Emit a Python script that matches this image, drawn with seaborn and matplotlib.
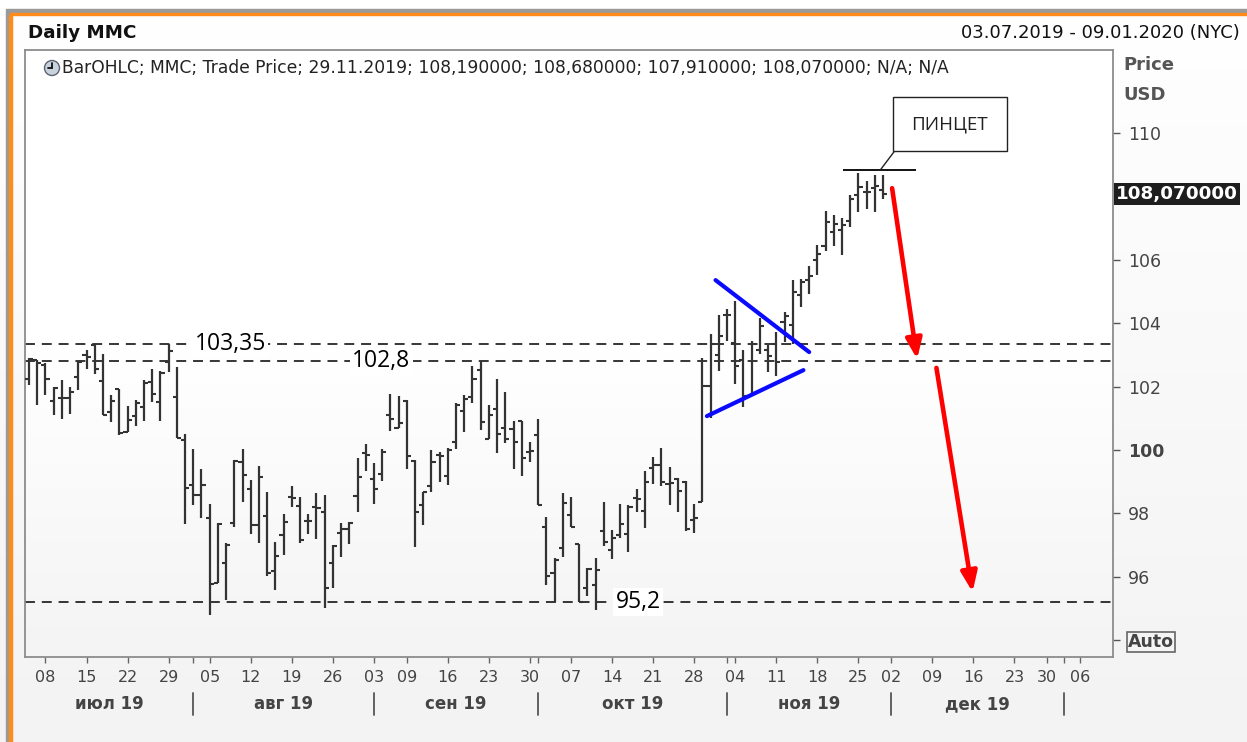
import matplotlib
matplotlib.use("Agg")
import matplotlib.pyplot as plt
import matplotlib.patches as mpatches
import matplotlib.transforms as mtransforms
from matplotlib.colors import LinearSegmentedColormap
import numpy as np
import pandas as pd
import seaborn as sns

W, H = 1247, 742

# daily bars MMC, 03.07.2019 - 29.11.2019
opens = [102.25, 102.83, 102.67, 101.54, 101.63, 101.63, 102.31, 102.99, 103.30, 102.17,
         101.21, 101.92, 100.58, 101.07, 101.36, 102.15, 101.50, 102.78, 101.68, 100.32,
         98.90, 98.59, 97.85, 95.79, 96.45, 97.70, 99.61, 98.78, 97.64, 97.93,
         96.18, 97.32, 98.53, 98.22, 97.77, 98.19, 98.05, 96.45, 97.39, 97.51,
         98.55, 99.91, 99.09, 99.23, 101.10, 100.69, 101.55, 99.66, 98.27, 98.88,
         99.84, 99.19, 100.24, 101.23, 101.68, 102.54, 100.36, 101.28, 100.71, 100.66,
         100.92, 99.95, 100.47, 97.57, 96.11, 96.91, 97.94, 97.02, 95.64, 95.74,
         97.43, 96.85, 97.32, 97.34, 98.48, 98.08, 99.44, 99.52, 98.92, 99.08,
         98.98, 97.79, 98.35, 102.01, 103.00, 104.26, 103.38, 102.85, 101.70, 103.17,
         103.14, 103.34, 104.03, 103.93, 104.88, 105.35, 105.98, 106.43, 106.87, 106.93,
         107.24, 108.03, 108.13, 108.26, 108.19]
highs = [102.90, 102.85, 102.73, 101.99, 102.20, 101.99, 102.80, 103.15, 103.35, 103.04,
         101.75, 101.92, 101.40, 101.57, 102.20, 102.55, 102.49, 103.36, 102.62, 100.49,
         100.03, 99.40, 98.29, 97.70, 97.07, 99.68, 100.03, 99.05, 99.49, 98.68,
         97.09, 97.98, 98.86, 98.53, 97.98, 98.64, 98.57, 96.99, 97.70, 97.74,
         99.75, 100.20, 99.59, 100.03, 101.76, 101.69, 101.57, 99.70, 98.69, 100.01,
         99.95, 100.05, 101.47, 101.72, 102.66, 102.77, 101.41, 102.25, 101.83, 100.92,
         100.92, 100.24, 100.99, 97.89, 96.58, 98.65, 98.51, 97.05, 96.27, 96.58,
         98.37, 97.48, 98.29, 98.25, 98.77, 99.33, 99.78, 100.07, 99.47, 99.12,
         99.02, 98.29, 102.89, 103.66, 104.26, 104.46, 104.71, 103.17, 103.45, 104.15,
         103.31, 103.71, 104.34, 105.35, 105.38, 105.82, 106.47, 107.55, 107.42, 107.31,
         108.03, 108.74, 108.50, 108.68, 108.68]
lows = [102.05, 101.42, 101.73, 101.10, 100.98, 101.15, 101.89, 102.57, 102.41, 101.12,
        100.87, 100.47, 100.56, 100.77, 100.91, 101.52, 100.91, 102.46, 100.37, 97.66,
        98.27, 97.87, 94.79, 95.79, 95.27, 97.56, 98.36, 97.35, 97.07, 96.03,
        95.58, 96.70, 98.19, 97.07, 97.35, 97.20, 95.01, 95.66, 96.63, 97.04,
        98.03, 99.33, 98.29, 99.02, 100.61, 100.69, 99.39, 96.95, 97.63, 98.67,
        98.98, 98.90, 100.03, 100.57, 101.49, 100.64, 100.34, 99.90, 100.22, 99.40,
        99.17, 99.61, 98.25, 95.74, 95.20, 96.63, 97.57, 95.20, 95.38, 94.96,
        96.96, 96.57, 97.24, 96.78, 98.04, 97.55, 98.92, 98.87, 98.25, 98.04,
        97.43, 97.38, 98.35, 101.01, 102.48, 103.45, 102.09, 101.35, 101.70, 103.03,
        102.45, 102.33, 103.40, 103.35, 104.51, 104.93, 105.51, 106.29, 106.43, 106.16,
        107.03, 107.52, 107.59, 107.52, 107.91]
closes = [102.88, 102.73, 102.25, 101.96, 101.63, 101.84, 102.78, 102.94, 102.55, 101.12,
          101.54, 100.53, 100.94, 101.47, 102.10, 101.78, 102.44, 103.11, 100.37, 98.80,
          98.59, 98.90, 95.76, 97.67, 97.01, 99.65, 99.20, 97.64, 99.16, 96.11,
          96.66, 97.74, 98.50, 97.15, 97.77, 98.16, 95.66, 96.97, 97.51, 97.70,
          99.16, 99.85, 98.76, 99.93, 100.99, 100.84, 99.82, 98.06, 98.67, 99.63,
          99.80, 100.01, 101.41, 101.60, 102.23, 100.87, 101.10, 100.50, 100.34, 100.24,
          99.74, 99.98, 98.25, 96.04, 96.53, 98.34, 97.57, 95.20, 96.25, 96.21,
          97.09, 97.22, 97.66, 98.21, 98.45, 99.00, 99.52, 98.98, 98.95, 98.71,
          97.51, 97.85, 102.01, 103.35, 103.61, 104.26, 102.64, 101.70, 103.35, 103.90,
          102.98, 102.79, 104.23, 104.98, 105.30, 105.49, 106.19, 107.18, 107.13, 107.10,
          107.92, 108.29, 108.15, 108.34, 108.07]

holidays = ["2019-07-04", "2019-09-02", "2019-11-28", "2019-12-25", "2020-01-01"]
week_ticks = ["2019-07-08", "2019-07-15", "2019-07-22", "2019-07-29", "2019-08-05",
              "2019-08-12", "2019-08-19", "2019-08-26", "2019-09-03", "2019-09-09",
              "2019-09-16", "2019-09-23", "2019-09-30", "2019-10-07", "2019-10-14",
              "2019-10-21", "2019-10-28", "2019-11-04", "2019-11-11", "2019-11-18",
              "2019-11-25", "2019-12-02", "2019-12-09", "2019-12-16", "2019-12-23",
              "2019-12-30", "2020-01-06"]
month_starts = ["2019-08-01", "2019-09-03", "2019-10-01", "2019-11-01", "2019-12-02", "2020-01-02"]
month_names = ["июл 19", "авг 19", "сен 19", "окт 19", "ноя 19", "дек 19"]

# horizontal levels and their labels
levels = [103.35, 102.8, 95.2]
level_texts = ["103,35", "102,8", "95,2"]

# hand-drawn lines, in (bar number, price)
tri_upper = ([83.6, 95.0], [105.36, 103.09])
tri_lower = ([82.55, 94.3], [101.07, 102.52])
arrow_1 = ((105.1, 108.26), (108.15, 102.87))
arrow_2 = ((110.5, 102.59), (114.9, 95.52))
pincet_level = 108.83

last_price = 108.07
y_ticks = [94, 96, 98, 100, 102, 104, 106, 110]


def px(x, y):
    return x / W, 1 - y / H


sns.set_theme(style="white")
plt.rcParams["font.family"] = ["DejaVu Sans"]

calendar = pd.bdate_range("2019-07-03", "2020-01-09")
calendar = calendar[~calendar.isin(pd.to_datetime(holidays))]
pos = {d: i for i, d in enumerate(calendar)}

df = pd.DataFrame({"date": calendar[:len(opens)], "open": opens, "high": highs,
                   "low": lows, "close": closes})
df["x"] = np.arange(len(df))

fig = plt.figure(figsize=(W / 100, H / 100), dpi=100)

# background of the whole window
bg = fig.add_axes([0, 0, 1, 1], zorder=-10)
bg_cmap = LinearSegmentedColormap.from_list("bg", ["#ffffff", "#f3f3f3"])
bg.imshow(np.linspace(0, 1, 100)[:, None], cmap=bg_cmap, aspect="auto", extent=[0, 1, 0, 1])
bg.set_axis_off()

# window frame
fig.add_artist(mpatches.Rectangle(px(6, 12), 1, 3 / H, color="#9a9a9a", transform=fig.transFigure))
fig.add_artist(mpatches.Rectangle(px(9, 15), 1, 2.5 / H, color="#ff8c1a", transform=fig.transFigure))
fig.add_artist(mpatches.Rectangle(px(6, H), 3 / W, 1 - 12 / H, color="#9a9a9a", transform=fig.transFigure))
fig.add_artist(mpatches.Rectangle(px(9, H), 2.5 / W, 1 - 15 / H, color="#ff8c1a", transform=fig.transFigure))

ax = fig.add_axes([25 / W, 1 - 657 / H, (1113 - 25) / W, (657 - 50) / H])
ax.set_facecolor("none")
plot_cmap = LinearSegmentedColormap.from_list("plot", ["#ffffff", "#ffffff", "#f4f4f4"])
ax.imshow(np.linspace(0, 1, 100)[:, None], cmap=plot_cmap, aspect="auto",
          extent=[0, 1, 0, 1], transform=ax.transAxes, zorder=0)

# OHLC bars
bar_col = "#333333"
ax.vlines(df["x"], df["low"], df["high"], color=bar_col, lw=1.6, zorder=3)
ax.hlines(df["open"], df["x"] - 0.5, df["x"], color=bar_col, lw=1.5, zorder=3)
ax.hlines(df["close"], df["x"], df["x"] + 0.5, color=bar_col, lw=1.5, zorder=3)

# levels
for lv in levels:
    ax.axhline(lv, color="black", lw=1.1, ls=(0, (6.5, 4.5)), zorder=2)
level_x = [24.5, 42.9, 74.2]
for lv, txt, lx in zip(levels, level_texts, level_x):
    ax.text(lx, lv, txt, ha="center", va="center", fontsize=16.5, family="Open Sans",
            color="black", zorder=4,
            bbox=dict(boxstyle="square,pad=0.1", fc="white", ec="none"))

# triangle
sns.lineplot(x=tri_upper[0], y=tri_upper[1], ax=ax, color="#0a0aff", lw=3.0, zorder=5)
sns.lineplot(x=tri_lower[0], y=tri_lower[1], ax=ax, color="#0a0aff", lw=3.0, zorder=5)

# arrows
for a0, a1 in [arrow_1, arrow_2]:
    ax.annotate("", xy=a1, xytext=a0, zorder=6,
                arrowprops=dict(arrowstyle="-|>,head_length=0.75,head_width=0.3",
                                color="#ff0000", lw=3.3, mutation_scale=16,
                                shrinkA=0, shrinkB=0))

# pincet mark
ax.hlines(pincet_level, 99.1, 108.0, color="black", lw=1.3, zorder=5)
ax.plot([103.65, 105.4], [pincet_level, 109.43], color="#222222", lw=1.0, zorder=5)
ax.add_patch(mpatches.Rectangle((105.25, 109.43), 13.8, 1.71, fc="white", ec="#222222",
                                lw=1.0, zorder=5))
ax.text(112.15, 110.285, "ПИНЦЕТ", ha="center", va="center", fontsize=13.5,
        family="Open Sans", color="#222222", zorder=6)

ax.set_xlim(-0.49, 132.0)
ax.set_ylim(93.47, 112.62)

# x axis
ax.set_xticks([pos[pd.Timestamp(d)] for d in week_ticks])
ax.set_xticklabels([pd.Timestamp(d).strftime("%d") for d in week_ticks])
ax.set_xticks([pos[pd.Timestamp(d)] for d in month_starts], minor=True)
ax.tick_params(axis="x", which="both", direction="out", length=4, width=1,
               color="#666666", pad=5, labelsize=11.5, labelcolor="#444444", bottom=True)

# y axis on the right
ax.yaxis.tick_right()
ax.set_yticks(y_ticks)
ax.set_yticklabels(["Auto" if t == 94 else str(t) for t in y_ticks])
ax.tick_params(axis="y", direction="out", length=5, width=1, color="#555555", pad=6,
               labelsize=12.5, labelcolor="#444444", right=True, left=False)
for lbl in ax.get_yticklabels():
    if lbl.get_text() == "100":
        lbl.set_fontweight("bold")
    if lbl.get_text() == "Auto":
        lbl.set_fontweight("bold")
        lbl.set_fontsize(12.5)
        lbl.set_bbox(dict(boxstyle="square,pad=0.05", fc="none", ec="#666666", lw=1.2))

for sp in ax.spines.values():
    sp.set_visible(True)
    sp.set_color("#8c8c8c")
    sp.set_linewidth(1.3)

# month row
trans = mtransforms.blended_transform_factory(ax.transData, ax.transAxes)
bounds = [-0.49] + [pos[pd.Timestamp(d)] for d in month_starts]
for b in bounds[1:]:
    ax.plot([b, b], [-0.059, -0.096], transform=trans, color="#555555", lw=1.3, clip_on=False)
for name, b0, b1 in zip(month_names, bounds[:-1], bounds[1:]):
    ax.text((b0 + b1) / 2, -0.078, name, transform=trans, ha="center", va="center",
            fontsize=12, fontweight="bold", color="#444444")

# last price label
ptrans = mtransforms.blended_transform_factory(ax.transAxes, ax.transData)
ax.text(1.0 + 3 / 1088, last_price, "108,070000", transform=ptrans, ha="left", va="center",
        fontsize=13.2, fontweight="bold", color="white", zorder=7, clip_on=False,
        bbox=dict(boxstyle="square,pad=0.12", fc="#1e1e1e", ec="none"))

# header texts
fig.text(*px(28, 33), "Daily MMC", fontsize=13.2, fontweight="bold", color="#111111", va="center")
fig.text(*px(1240, 33), "03.07.2019 - 09.01.2020 (NYC)", fontsize=13, color="#111111",
         va="center", ha="right")
fig.text(*px(1123, 65), "Price", fontsize=13, fontweight="bold", color="#555555", va="center")
fig.text(*px(1123, 95), "USD", fontsize=13, fontweight="bold", color="#555555", va="center")
fig.text(*px(62, 68), "BarOHLC; MMC; Trade Price; 29.11.2019; 108,190000; 108,680000; "
         "107,910000; 108,070000; N/A; N/A", fontsize=12.3, color="#222222", va="center")

# clock icon of the legend row
cx, cy = px(52, 68)
fig.add_artist(mpatches.Ellipse((cx, cy), 15 / W, 15 / H, fc="#c9d3de", ec="#5a6470", lw=1,
                                transform=fig.transFigure))
fig.add_artist(plt.Line2D([cx, cx], [cy, cy + 5 / H], color="#111111", lw=1.3,
                          transform=fig.transFigure))
fig.add_artist(plt.Line2D([cx, cx - 4 / W], [cy, cy], color="#111111", lw=1.3,
                          transform=fig.transFigure))

fig.savefig("out.png", dpi=100)
